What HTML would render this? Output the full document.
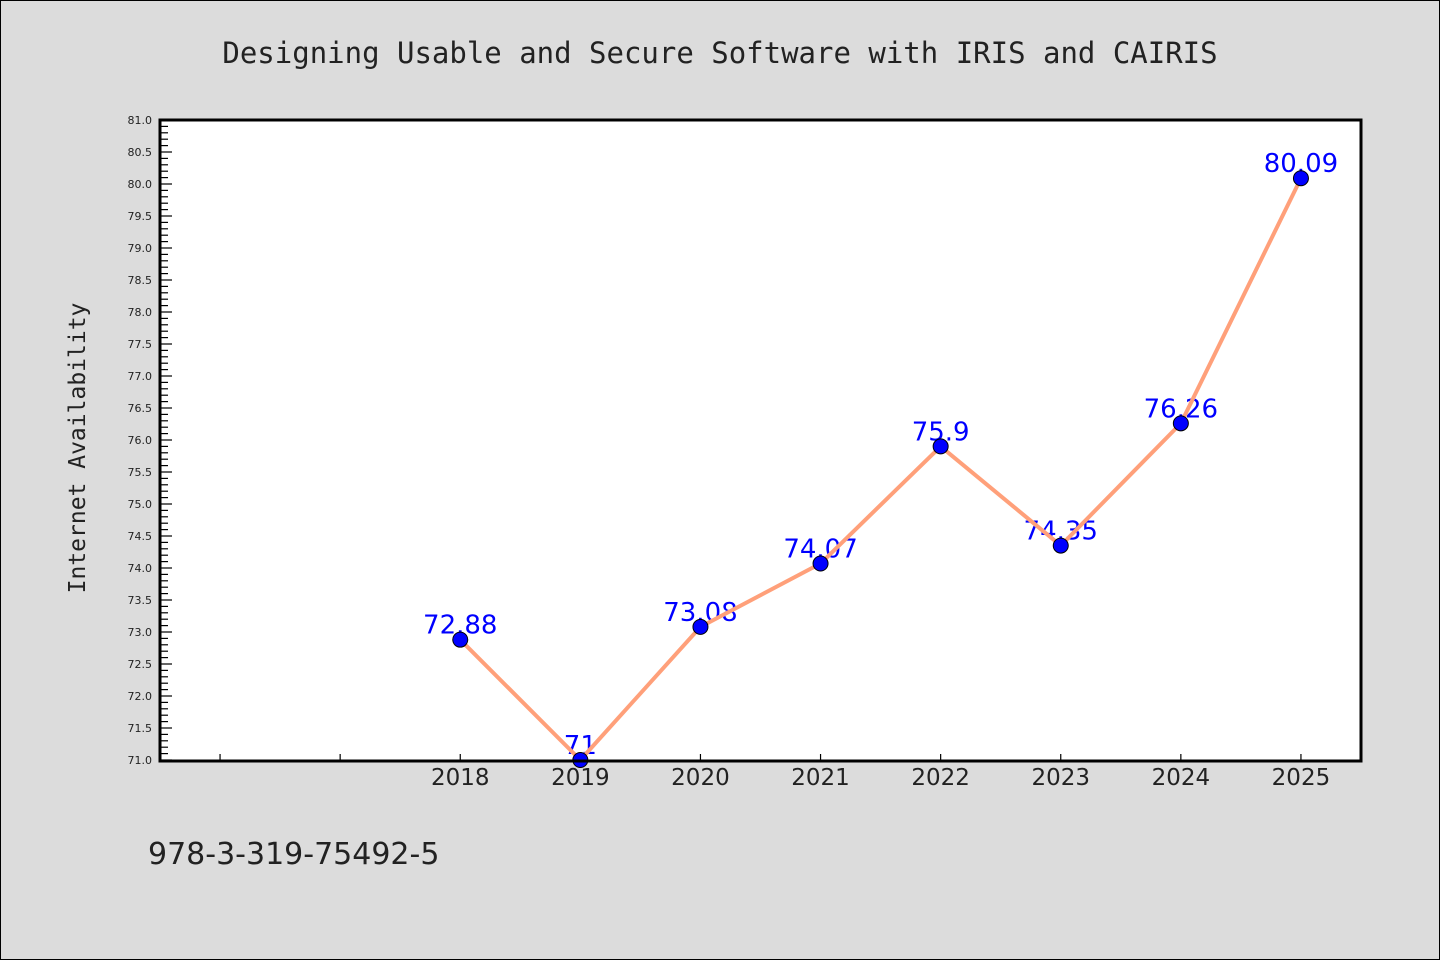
<!DOCTYPE html>
<html><head><meta charset="utf-8"><style>
html,body{margin:0;padding:0;background:#dcdcdc;}
svg{display:block;}
</style></head><body>
<svg width="1440" height="960" xmlns="http://www.w3.org/2000/svg">
<rect x="0.5" y="0.5" width="1439" height="959" fill="#dcdcdc" stroke="#000"/>
<text x="720" y="63" text-anchor="middle" font-family="'DejaVu Sans Mono','Liberation Mono',monospace" font-size="29" fill="#222">Designing Usable and Secure Software with IRIS and CAIRIS</text>
<text transform="translate(85,448) rotate(-90)" text-anchor="middle" font-family="'DejaVu Sans Mono','Liberation Mono',monospace" font-size="23" fill="#222">Internet Availability</text>
<text x="148" y="864" font-family="'DejaVu Sans','Liberation Sans',sans-serif" font-size="30" fill="#222">978-3-319-75492-5</text>
<rect x="160" y="120" width="1201" height="641" fill="#fff"/>
<g id="ticks"></g>
<g id="marks"></g>
<rect x="160" y="120" width="1201" height="641" fill="none" stroke="#000" stroke-width="3"/>
<script>
const categories = ["", "", "2018", "2019", "2020", "2021", "2022", "2023", "2024", "2025"];
const values = [null, null, 72.88, 71, 73.08, 74.07, 75.9, 74.35, 76.26, 80.09];
const valueLabels = ["", "", "72.88", "71", "73.08", "74.07", "75.9", "74.35", "76.26", "80.09"];
const yMin = 71, yMax = 81, yMajor = 0.5, yMinor = 0.1;
const NS = "http://www.w3.org/2000/svg";
const L = 160, T = 120, R = 1361, B = 760;
function xPos(i){ return L + (R - L) / categories.length * (i + 0.5); }
function yPos(v){ return B - (v - yMin) / (yMax - yMin) * (B - T); }
function mk(tag, attrs, parent){ const e = document.createElementNS(NS, tag); for (const k in attrs) e.setAttribute(k, attrs[k]); parent.appendChild(e); return e; }
const tg = document.getElementById('ticks');
const nMinor = Math.round((yMax - yMin) / yMinor);
const perMajor = Math.round(yMajor / yMinor);
for (let k = 0; k <= nMinor; k++) {
  const v = yMin + k * yMinor, y = yPos(v);
  const major = k % perMajor === 0;
  const t = mk('line', {x1: L, x2: L + (major ? 12 : 8), y1: y, y2: y, stroke: '#000', 'stroke-width': 1.2}, tg);
  
  
  if (major) {
    const tx = mk('text', {x: 152, y: y + 4, 'text-anchor': 'end', 'font-family': "'DejaVu Sans','Liberation Sans',sans-serif", 'font-size': 11, fill: '#222'}, tg);
    tx.textContent = v.toFixed(1);
    
    
  }
}
categories.forEach((c, i) => {
  const x = xPos(i);
  const t = mk('line', {x1: x, x2: x, y1: B, y2: B - 6, stroke: '#000', 'stroke-width': 1.2}, tg);
  
  
  if (c) {
    const tx = mk('text', {x: x, y: 785, 'text-anchor': 'middle', 'font-family': "'DejaVu Sans','Liberation Sans',sans-serif", 'font-size': 23, fill: '#222'}, tg);
    tx.textContent = c;
    
    
  }
});
const mg = document.getElementById('marks');
values.forEach((v, i) => {
  if (v === null) return;
  const tx = mk('text', {x: xPos(i), y: yPos(v) - 6, 'text-anchor': 'middle', 'font-family': "'DejaVu Sans','Liberation Sans',sans-serif", 'font-size': 26, fill: '#0000ff'}, mg);
  tx.textContent = valueLabels[i];
  
  
});
const pts = [];
values.forEach((v, i) => { if (v !== null) pts.push(xPos(i) + ',' + yPos(v)); });
const line = mk('polyline', {points: pts.join(' '), fill: 'none', stroke: '#ffa07a', 'stroke-width': 4, 'stroke-linejoin': 'round'}, mg);


values.forEach((v, i) => {
  if (v === null) return;
  const c = mk('circle', {cx: xPos(i), cy: yPos(v), r: 7.5, fill: '#0000ff', stroke: '#000', 'stroke-width': 1}, mg);
  
  
});
</script>
</svg>
</body></html>
